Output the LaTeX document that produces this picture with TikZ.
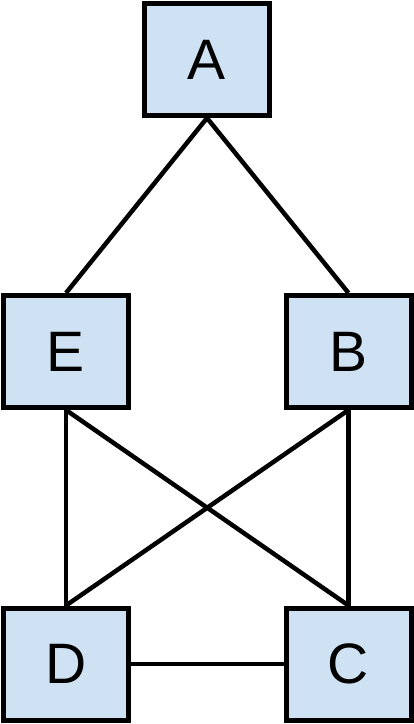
\documentclass[tikz,border=0pt]{standalone}
\usepackage{fontspec}
\setmainfont{Liberation Sans}
\definecolor{boxblue}{RGB}{207,226,243}
\tikzset{
    letterbox/.style={draw=black, fill=boxblue, line width=5pt, minimum width=125pt, minimum height=112pt, inner sep=0pt, font=\fontsize{57}{57}\selectfont},
    link/.style={draw=black, line width=4.5pt}
}
\begin{document}
\begin{tikzpicture}[x=1pt, y=-1pt]

        \useasboundingbox (0,0) rectangle (414,724);

        \node [letterbox] (A) at (207,59.5) {A};
        \node [letterbox] (E) at (66,351.5) {E};
        \node [letterbox] (B) at (348.5,351.5) {B};
        \node [letterbox] (D) at (66,664) {D};
        \node [letterbox] (C) at (348.5,664) {C};

        \draw[link] (A.south) -- (E.north);
        \draw[link] (A.south) -- (B.north);

        \draw[link] (E.south) -- (D.north);
        \draw[link] (E.south) -- (C.north);
        \draw[link] (B.south) -- (D.north);
        \draw[link] (B.south) -- (C.north);

        \draw[link] (D.east) -- (C.west);

    \end{tikzpicture}
\end{document}
